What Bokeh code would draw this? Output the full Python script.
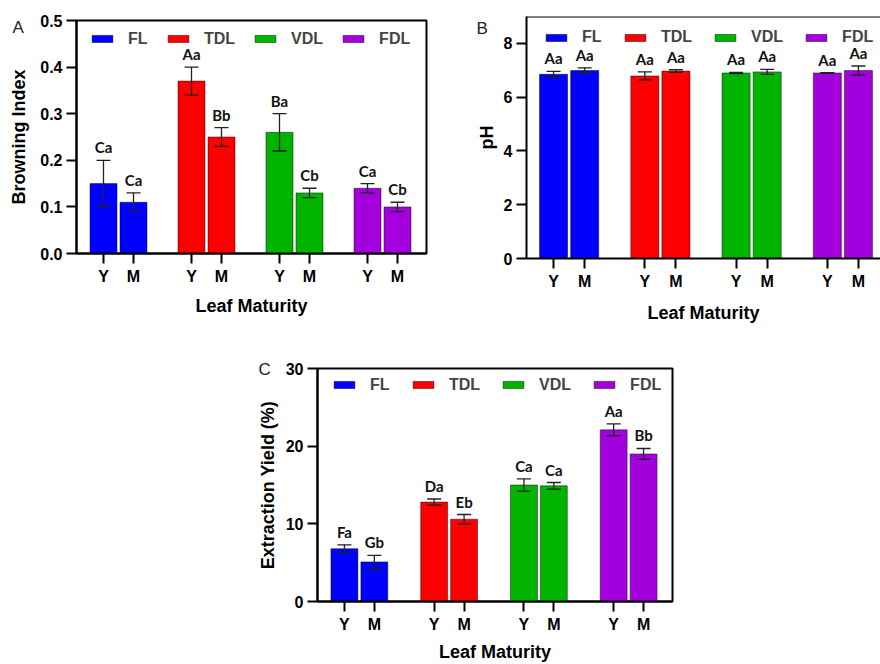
from bokeh.plotting import figure
from bokeh.models import (Range1d, FixedTicker, CustomJSTickFormatter, PrintfTickFormatter,
                          Whisker, TeeHead, ColumnDataSource, Legend, LegendItem, LabelSet,
                          Span, Spacer, Title)
from bokeh.layouts import column, row
from bokeh.embed import file_html
from bokeh.resources import INLINE
from bokeh.core.properties import value

# ---------------- data ----------------
groups = ["FL", "TDL", "VDL", "FDL"]
maturity = ["Y", "M"]
colors = ["#0000FF", "#FF0000", "#00B400", "#A400DE"]

browning_mean = [0.15, 0.11, 0.37, 0.25, 0.26, 0.13, 0.14, 0.10]
browning_err = [0.05, 0.02, 0.03, 0.02, 0.04, 0.01, 0.01, 0.01]
browning_sig = ["Ca", "Ca", "Aa", "Bb", "Ba", "Cb", "Ca", "Cb"]
browning_ticks = [0.0, 0.1, 0.2, 0.3, 0.4, 0.5]

ph_mean = [6.85, 6.99, 6.79, 6.97, 6.90, 6.94, 6.90, 6.99]
ph_err = [0.11, 0.10, 0.15, 0.05, 0.02, 0.09, 0.01, 0.17]
ph_sig = ["Aa", "Aa", "Aa", "Aa", "Aa", "Aa", "Aa", "Aa"]
ph_ticks = [0, 2, 4, 6, 8]

yield_mean = [6.8, 5.1, 12.8, 10.6, 15.0, 14.9, 22.1, 19.0]
yield_err = [0.5, 0.85, 0.4, 0.6, 0.8, 0.42, 0.76, 0.7]
yield_sig = ["Fa", "Gb", "Da", "Eb", "Ca", "Ca", "Aa", "Bb"]
yield_ticks = [0, 10, 20, 30]

AX_FONT = "Liberation Sans"
SIG_FONT = "Lato"


def build(letter, means, errs, sig, y_title, y_ticks, y_fmt, y_max,
          geom, dims, leg_cfg, letter_cfg, y_stand, x_stand, full_box=True):
    inner, step, lpad, rpad, bw = geom
    W, H, bl, br, bt, bb = dims
    ng, nm = len(groups), len(maturity)
    xs = [g * step + m * inner for g in range(ng) for m in range(nm)]
    fills = [colors[g] for g in range(ng) for m in range(nm)]
    src = ColumnDataSource(dict(
        x=xs, top=means,
        upper=[a + b for a, b in zip(means, errs)],
        lower=[a - b for a, b in zip(means, errs)],
        sig=sig, color=fills))

    p = figure(width=W, height=H, title=None,
               x_range=Range1d(-lpad, xs[-1] + rpad), y_range=Range1d(0, y_max),
               output_backend="svg", toolbar_location=None,
               min_border_left=bl, min_border_right=br,
               min_border_top=bt, min_border_bottom=bb)
    p.xgrid.visible = False
    p.ygrid.visible = False
    p.background_fill_color = "white"
    p.border_fill_color = "white"

    r = p.vbar(x="x", top="top", width=bw, source=src, fill_color="color",
               line_color="black", line_alpha=0.45, line_width=1)

    w = Whisker(base="x", upper="upper", lower="lower", source=src, level="annotation",
                line_color="#222222", line_width=1.3,
                upper_head=TeeHead(size=14, line_color="#222222", line_width=1.3),
                lower_head=TeeHead(size=14, line_color="#222222", line_width=1.3))
    p.add_layout(w)

    p.add_layout(LabelSet(x="x", y="upper", text="sig", source=src, text_align="center",
                          text_baseline="alphabetic", y_offset=7, level="overlay",
                          text_font=value(SIG_FONT), text_font_style="bold",
                          text_font_size="15px", text_color="#111111"))

    # x axis
    xa = p.xaxis[0]
    xa.ticker = FixedTicker(ticks=xs)
    xa.formatter = CustomJSTickFormatter(args=dict(labels=maturity),
                                         code="return labels[index % labels.length]")
    xa.axis_label = "Leaf Maturity"
    xa.axis_label_standoff = x_stand
    # y axis
    ya = p.yaxis[0]
    ya.ticker = FixedTicker(ticks=y_ticks)
    ya.formatter = PrintfTickFormatter(format=y_fmt)
    ya.axis_label = y_title
    ya.axis_label_standoff = y_stand
    for ax in (xa, ya):
        ax.axis_line_width = 2
        ax.axis_line_color = "black"
        ax.major_tick_line_width = 2
        ax.major_tick_line_color = "black"
        ax.major_tick_out = 10
        ax.major_tick_in = 0
        ax.minor_tick_line_color = None
        ax.major_label_standoff = 4
        ax.major_label_text_font = AX_FONT
        ax.major_label_text_font_style = "bold"
        ax.major_label_text_font_size = "16px"
        ax.major_label_text_color = "black"
        ax.axis_label_text_font = AX_FONT
        ax.axis_label_text_font_style = "bold"
        ax.axis_label_text_font_size = "18px"
        ax.axis_label_text_color = "black"

    if full_box:
        p.outline_line_color = "black"
        p.outline_line_width = 2
        p.outline_line_alpha = 1
    else:
        p.outline_line_color = None
        p.add_layout(Span(location=y_max, dimension="width", line_color="black", line_width=2))

    # legend: (font size, spacing, x offset from frame left, row-top offset from frame top)
    lfs, lspace, lxo, lyo = leg_cfg
    fh = H - bt - bb
    row_h = 20
    items = [LegendItem(label=groups[g], renderers=[r], index=g * nm) for g in range(ng)]
    leg = Legend(items=items, orientation="horizontal", location=(lxo, fh - lyo - row_h),
                 glyph_width=26, glyph_height=9, label_standoff=13, spacing=lspace,
                 padding=0, margin=0, border_line_color=None,
                 background_fill_alpha=0, label_text_font=AX_FONT,
                 label_text_font_style="bold", label_text_font_size=lfs,
                 label_height=row_h)
    p.add_layout(leg)

    # panel letter
    loff, lstand = letter_cfg
    p.add_layout(Title(text=letter, align="left", offset=loff, standoff=lstand,
                       text_font=AX_FONT, text_font_size="17px",
                       text_font_style="normal", text_color="#222222"), "above")
    return p


pA = build("A", browning_mean, browning_err, browning_sig, "Browning Index",
           browning_ticks, "%.1f", 0.5,
           geom=(30, 88, 27, 29, 27), dims=(460, 330, 76, 34, 20, 77),
           leg_cfg=("16px", 17, 13, 8.5), letter_cfg=(-64, -33),
           y_stand=8, x_stand=8)
pB = build("B", ph_mean, ph_err, ph_sig, "pH", ph_ticks, "%d", 9,
           geom=(31, 91, 27, 22, 28), dims=(420, 330, 66, 0, 16, 72),
           leg_cfg=("16px", 20, 17, 11), letter_cfg=(-50, -42),
           y_stand=4, x_stand=10, full_box=False)
pC = build("C", yield_mean, yield_err, yield_sig, "Extraction Yield (%)", yield_ticks, "%d", 30,
           geom=(30, 90, 27, 29, 27), dims=(440, 334, 77, 8, 38, 61),
           leg_cfg=("16px", 20, 14, 8.5), letter_cfg=(-59, -21),
           y_stand=5, x_stand=6)

layout = column(row(column(pA), column(pB)), row(Spacer(width=240, height=334), pC))

open("out.html", "w").write(file_html(layout, INLINE))
